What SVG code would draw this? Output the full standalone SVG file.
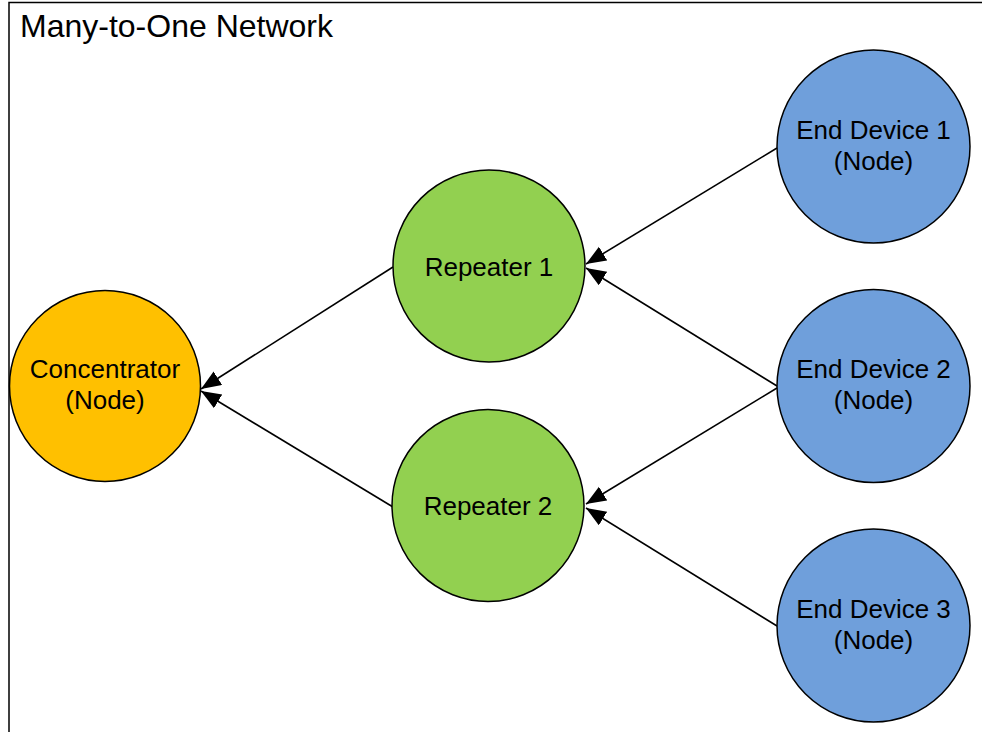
<svg xmlns="http://www.w3.org/2000/svg" width="982" height="732" viewBox="0 0 982 732">
<defs>
<style>
.frame{fill:#fff;stroke:#000;stroke-width:1.5}
.node{stroke:#000;stroke-width:1.5}
.conc{fill:#FFC000}
.rep{fill:#92D050}
.end{fill:#6F9FDB}
.lbl{font-family:"Liberation Sans",Arial,sans-serif;font-size:26px;fill:#000;text-anchor:middle}
.title{font-family:"Liberation Sans",Arial,sans-serif;font-size:32px;fill:#000}
.edge{stroke:#000;stroke-width:1.6;fill:none;marker-end:url(#arr)}
</style>
<marker id="arr" markerUnits="userSpaceOnUse" markerWidth="22" markerHeight="18" refX="20" refY="8" orient="auto">
<path d="M0,0 L20,8 L0,16 z" fill="#000"/>
</marker>
</defs>
<rect class="frame" x="9" y="2.5" width="1000" height="800"/>
<text class="title" x="20" y="37">Many-to-One Network</text>
<g id="connectors">
<line class="edge" x1="777" y1="148" x2="586" y2="264"/>
<line class="edge" x1="777" y1="386" x2="586" y2="268"/>
<line class="edge" x1="777" y1="388" x2="586" y2="504"/>
<line class="edge" x1="777" y1="626" x2="586" y2="508"/>
<line class="edge" x1="393" y1="267" x2="201" y2="389"/>
<line class="edge" x1="393" y1="507" x2="201" y2="391"/>
</g>
<g id="concentrator">
<circle class="node conc" cx="105" cy="386" r="95.5"/>
<text class="lbl" x="105" y="378">Concentrator</text>
<text class="lbl" x="105" y="409">(Node)</text>
</g>
<g id="repeater1">
<circle class="node rep" cx="489" cy="266" r="96"/>
<text class="lbl" x="489" y="276">Repeater 1</text>
</g>
<g id="repeater2">
<circle class="node rep" cx="488" cy="505.5" r="96"/>
<text class="lbl" x="488" y="515">Repeater 2</text>
</g>
<g id="enddevice1">
<circle class="node end" cx="873.5" cy="146.5" r="96.5"/>
<text class="lbl" x="873.5" y="139">End Device 1</text>
<text class="lbl" x="873.5" y="170">(Node)</text>
</g>
<g id="enddevice2">
<circle class="node end" cx="873.5" cy="386" r="96.5"/>
<text class="lbl" x="873.5" y="378">End Device 2</text>
<text class="lbl" x="873.5" y="409">(Node)</text>
</g>
<g id="enddevice3">
<circle class="node end" cx="873.5" cy="625.5" r="96.5"/>
<text class="lbl" x="873.5" y="618">End Device 3</text>
<text class="lbl" x="873.5" y="649">(Node)</text>
</g>
</svg>
